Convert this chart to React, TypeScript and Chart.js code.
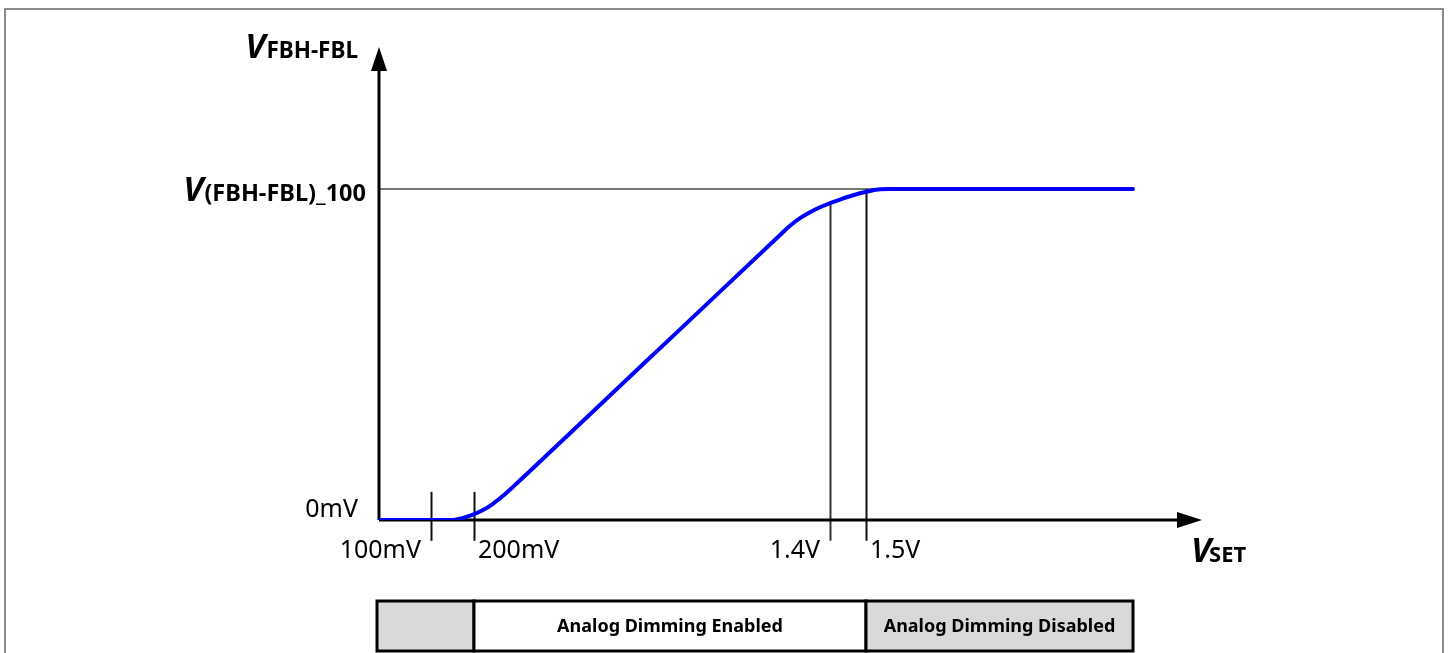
import React, { useEffect, useRef } from "react";
import { Chart, registerables } from "chart.js";

Chart.register(...registerables);

// Diagram units: x in schematic units along V_SET, y as fraction of V(FBH-FBL)_100
const curveX = [0, 61, 74, 84, 94, 104, 114, 124, 134, 200, 300, 400, 411, 421, 431, 441, 451, 461, 471, 481, 491, 501, 511, 754];
const curveY = [0, 0, 0, 0.006, 0.016, 0.03, 0.049, 0.073, 0.1, 0.288, 0.573, 0.858, 0.889, 0.912, 0.93, 0.945, 0.957, 0.968, 0.978, 0.987, 0.994, 0.999, 1.0, 1.0];

const xMarkerLabels = ["100mV", "200mV", "1.4V", "1.5V"];
const xMarkerPos = [52, 95, 451, 487];
const xMarkerTop = [0.085, 0.085, 0.957, 1.0];
const xMarkerAlign = ["right", "left", "right", "left"];

const yLevelLabels = ["0mV", "(FBH-FBL)_100"];
const yLevelValues = [0, 1];

const regionLabels = ["", "Analog Dimming Enabled", "Analog Dimming Disabled"];
const regionStart = [-2, 95, 487];
const regionEnd = [95, 487, 754];
const regionFill = ["#d9d9d9", "#ffffff", "#d9d9d9"];

const X_MAX = 823;
const Y_MAX = 1.429;

const FONT = "'Noto Sans', 'Open Sans', sans-serif";

const diagramPlugin = {
  id: "diagram",
  beforeDatasetsDraw(chart: any) {
    const { ctx } = chart;
    const xs = chart.scales.x;
    const ys = chart.scales.y;
    const x0 = xs.getPixelForValue(0);
    const y0 = ys.getPixelForValue(0);
    ctx.save();
    // outer frame
    ctx.strokeStyle = "#666";
    ctx.lineWidth = 1.5;
    ctx.strokeRect(5, 9, 1438, 660);

    // reference level line
    ctx.strokeStyle = "#777";
    ctx.lineWidth = 2;
    ctx.beginPath();
    ctx.moveTo(x0, ys.getPixelForValue(yLevelValues[1]));
    ctx.lineTo(xs.getPixelForValue(499), ys.getPixelForValue(yLevelValues[1]));
    ctx.stroke();

    // marker lines
    ctx.lineWidth = 2;
    xMarkerPos.forEach((p, i) => {
      const px = Math.round(xs.getPixelForValue(p)) + 0.5;
      ctx.strokeStyle = i === 2 ? "#333" : "#111";
      ctx.beginPath();
      ctx.moveTo(px, ys.getPixelForValue(xMarkerTop[i]));
      ctx.lineTo(px, ys.getPixelForValue(-0.063));
      ctx.stroke();
    });

    // axes
    ctx.strokeStyle = "#000";
    ctx.fillStyle = "#000";
    ctx.lineWidth = 3;
    ctx.beginPath();
    ctx.moveTo(x0, y0);
    ctx.lineTo(x0, ys.getPixelForValue(Y_MAX) + 20);
    ctx.moveTo(x0, y0);
    ctx.lineTo(xs.getPixelForValue(X_MAX) - 20, y0);
    ctx.stroke();
    const yt = ys.getPixelForValue(Y_MAX);
    ctx.beginPath();
    ctx.moveTo(x0, yt);
    ctx.lineTo(x0 - 8, yt + 24);
    ctx.lineTo(x0 + 8, yt + 24);
    ctx.closePath();
    ctx.fill();
    const xt = xs.getPixelForValue(X_MAX);
    ctx.beginPath();
    ctx.moveTo(xt, y0);
    ctx.lineTo(xt - 25, y0 - 8);
    ctx.lineTo(xt - 25, y0 + 8);
    ctx.closePath();
    ctx.fill();
    ctx.restore();
  },
  afterDatasetsDraw(chart: any) {
    const { ctx } = chart;
    const xs = chart.scales.x;
    const ys = chart.scales.y;
    const x0 = xs.getPixelForValue(0);
    ctx.save();
    ctx.fillStyle = "#000";

    // x marker labels
    ctx.font = `25px ${FONT}`;
    ctx.textBaseline = "alphabetic";
    xMarkerPos.forEach((p, i) => {
      const px = xs.getPixelForValue(p);
      ctx.textAlign = xMarkerAlign[i];
      ctx.fillText(xMarkerLabels[i], px + (xMarkerAlign[i] === "left" ? 4 : -10), 558);
    });

    // y levels
    ctx.textAlign = "right";
    ctx.font = `25px ${FONT}`;
    ctx.fillText(yLevelLabels[0], x0 - 21, ys.getPixelForValue(yLevelValues[0]) - 3);

    // V(FBH-FBL)_100
    const ly = ys.getPixelForValue(yLevelValues[1]) + 12;
    ctx.font = `bold 23.5px ${FONT}`;
    const subW = ctx.measureText(yLevelLabels[1]).width;
    const subRight = x0 - 13;
    ctx.fillText(yLevelLabels[1], subRight, ly);
    ctx.font = `italic bold 34px ${FONT}`;
    ctx.fillText("V", subRight - subW - 1, ly);

    // Y axis title
    ctx.font = `bold 22.5px ${FONT}`;
    const ySubW = ctx.measureText("FBH-FBL").width;
    ctx.fillText("FBH-FBL", x0 - 21, 58);
    ctx.font = `italic bold 34px ${FONT}`;
    ctx.fillText("V", x0 - 21 - ySubW - 1, 58);

    // X axis title
    ctx.textAlign = "left";
    ctx.font = `italic bold 34px ${FONT}`;
    const vW = ctx.measureText("V").width;
    ctx.fillText("V", 1191, 562);
    ctx.font = `bold 22px ${FONT}`;
    ctx.fillText("SET", 1191 + vW - 2, 562);

    // region box
    const top = 601;
    const bot = 651;
    regionLabels.forEach((lab, i) => {
      const a = xs.getPixelForValue(regionStart[i]);
      const b = xs.getPixelForValue(regionEnd[i]);
      ctx.fillStyle = regionFill[i];
      ctx.fillRect(a, top, b - a, bot - top);
      ctx.strokeStyle = "#000";
      ctx.lineWidth = 3;
      ctx.strokeRect(a, top, b - a, bot - top);
      if (lab) {
        ctx.fillStyle = "#000";
        ctx.font = `bold 18px ${FONT}`;
        ctx.textAlign = "center";
        ctx.textBaseline = "middle";
        ctx.fillText(lab, (a + b) / 2, (top + bot) / 2 + 1);
      }
    });
    ctx.restore();
  },
};

export default function App() {
  const ref = useRef<HTMLCanvasElement | null>(null);
  useEffect(() => {
    if (!ref.current) return;
    const chart = new Chart(ref.current, {
      type: "line",
      data: {
        datasets: [
          {
            data: curveX.map((x, i) => ({ x, y: curveY[i] })),
            borderColor: "#0000ff",
            borderWidth: 4,
            pointRadius: 0,
            cubicInterpolationMode: "monotone",
            borderCapStyle: "round",
            borderJoinStyle: "round",
            fill: false,
          },
        ],
      },
      options: {
        animation: false,
        responsive: false,
        maintainAspectRatio: false,
        layout: { padding: { left: 379, right: 248, top: 47, bottom: 133 } },
        plugins: { legend: { display: false }, tooltip: { enabled: false } },
        scales: {
          x: { type: "linear", min: 0, max: X_MAX, display: false },
          y: { type: "linear", min: 0, max: Y_MAX, display: false },
        },
      },
      plugins: [diagramPlugin],
    } as any);
    return () => chart.destroy();
  }, []);
  return (
    <div style={{ position: "absolute", left: 0, top: 0, width: 1450, height: 653, background: "#fff" }}>
      <canvas ref={ref} width={1450} height={653} style={{ width: 1450, height: 653, display: "block" }} />
    </div>
  );
}
